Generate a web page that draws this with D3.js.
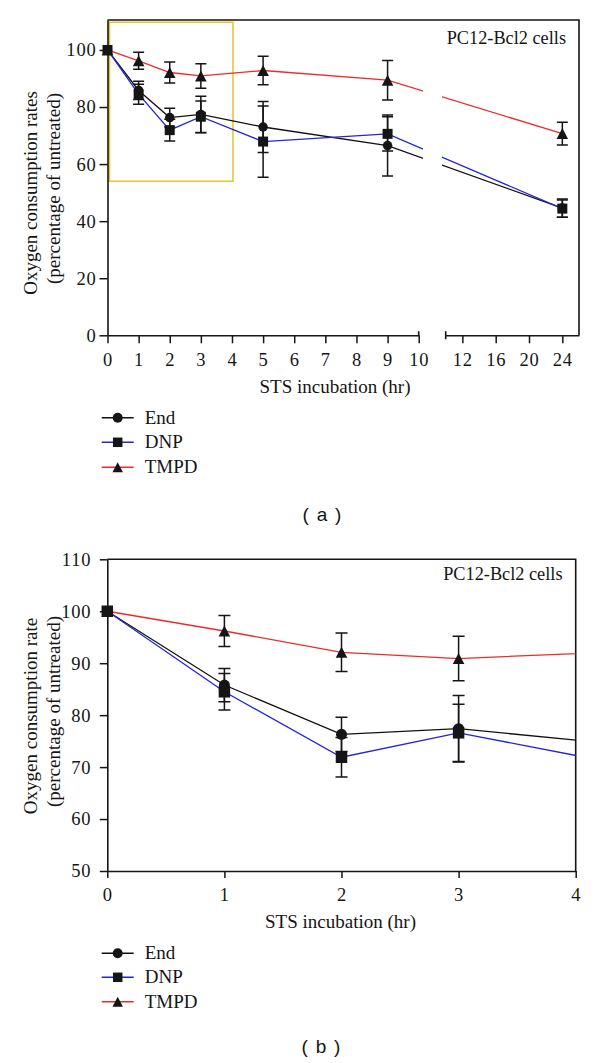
<!DOCTYPE html>
<html><head><meta charset="utf-8">
<script src="https://cdn.jsdelivr.net/npm/d3@7"></script>
<style>body{margin:0;background:#fff} svg{display:block}</style>
</head><body>
<svg id="c" width="600" height="1063"></svg>
<script>
// ---------- data ----------
const hours    = [0, 1, 2, 3, 5, 9, 24];
const endMean  = [100, 85.8, 76.3, 77.4, 73.0, 66.5, 44.6];
const endErr   = [0, 3.2, 3.3, 6.4, 8.9, 10.7, 3.2];
const dnpMean  = [100, 84.5, 71.9, 76.6, 67.9, 70.6, 44.4];
const dnpErr   = [0, 3.5, 3.8, 5.5, 12.5, 6.0, 3.0];
const tmpdMean = [100, 96.2, 92.1, 90.9, 92.8, 89.4, 70.7];
const tmpdErr  = [0, 3.0, 3.7, 4.3, 5.0, 6.9, 4.0];
const seriesNames = ["End", "DNP", "TMPD"];
const xTicksA1 = [0,1,2,3,4,5,6,7,8,9,10];
const xTicksA2 = [12,16,20,24];
const yTicksA  = [0,20,40,60,80,100];
const xTicksB  = [0,1,2,3,4];
const yTicksB  = [50,60,70,80,90,100,110];
const zoomHours = [0, 4];
const zoomValues = [54, 109.7];
const panelLabel = "PC12-Bcl2 cells";
const xTitle = "STS incubation (hr)";
const yTitleA = ["Oxygen consumption rates", "(percentage of untreated)"];
const yTitleB = ["Oxygen consumption rate", "(percentage of untreated)"];

// ---------- styles ----------
const colors = {End: "#111111", DNP: "#2424d8", TMPD: "#ee2a2a"};
const shapes = {End: "circle", DNP: "square", TMPD: "triangle"};
const SERIF = "'Liberation Serif', 'Times New Roman', serif";
const SANS = "'Liberation Sans', Arial, sans-serif";
const INK = "#151515";
const fmt = d3.format("d");

const series = seriesNames.map((name, i) => {
  const m = [endMean, dnpMean, tmpdMean][i];
  const e = [endErr, dnpErr, tmpdErr][i];
  return {name, values: hours.map((t, j) => ({t, v: m[j], e: e[j]}))};
});

const svg = d3.select("#c");
const defs = svg.append("defs");

function markerPath(shape, s) {
  if (shape === "circle") return d3.symbol(d3.symbolCircle, Math.PI * (s/2) * (s/2))();
  if (shape === "square") return `M${-s/2},${-s/2}h${s}v${s}h${-s}Z`;
  const w = s * 1.1, h = s * 1.05;
  return `M0,${-h/2}L${w/2},${h/2}L${-w/2},${h/2}Z`;
}

function styleAxis(g, fs, ls) {
  g.select(".domain").attr("stroke", INK).attr("stroke-width", 1.6);
  g.selectAll(".tick line").attr("stroke", INK).attr("stroke-width", 1.5);
  g.selectAll(".tick text").attr("fill", INK).attr("font-family", SERIF)
    .attr("font-size", fs).attr("letter-spacing", ls);
}

function drawSeries(g, x, y, lineClip, opts) {
  const line = d3.line().x(d => x(d.t)).y(d => y(d.v));
  const lg = g.append("g").attr("clip-path", `url(#${lineClip})`);
  series.forEach(s => {
    lg.append("path").attr("d", line(s.values)).attr("fill", "none")
      .attr("stroke", colors[s.name]).attr("stroke-width", 1.3);
  });
  const eg = g.append("g");
  series.forEach(s => {
    s.values.filter(d => d.e > 0 && d.t <= opts.maxT).forEach(d => {
      const cx = x(d.t), y1 = y(d.v + d.e), y2 = y(d.v - d.e), c = opts.cap / 2;
      eg.append("path")
        .attr("d", `M${cx},${y1}V${y2}M${cx - c},${y1}H${cx + c}M${cx - c},${y2}H${cx + c}`)
        .attr("fill", "none").attr("stroke", INK).attr("stroke-width", 1.5);
    });
  });
  const mg = g.append("g");
  series.forEach(s => {
    s.values.filter(d => d.t <= opts.maxT).forEach(d => {
      mg.append("path").attr("d", markerPath(shapes[s.name], opts.ms[shapes[s.name]]))
        .attr("transform", `translate(${x(d.t)},${y(d.v)})`).attr("fill", INK);
    });
  });
}

function drawLegend(g, x0, ys) {
  seriesNames.forEach((name, i) => {
    const yy = ys[i];
    g.append("line").attr("x1", x0).attr("x2", x0 + 32).attr("y1", yy).attr("y2", yy)
      .attr("stroke", colors[name]).attr("stroke-width", 1.4);
    g.append("path").attr("d", markerPath(shapes[name], shapes[name] === "circle" ? 10 : 9.5))
      .attr("transform", `translate(${x0 + 16},${yy})`).attr("fill", INK);
    g.append("text").attr("x", x0 + 43).attr("y", yy + 6).text(name)
      .attr("font-family", SERIF).attr("font-size", 19).attr("fill", INK);
  });
}

function yTitle(g, lines, cx, cys) {
  lines.forEach((t, i) => {
    g.append("text").attr("transform", `translate(${cx[i]},${cys[i]}) rotate(-90)`)
      .attr("text-anchor", "middle").attr("font-family", SERIF).attr("font-size", 19)
      .attr("fill", INK).text(t);
  });
}

// ================= Panel A =================
const A = svg.append("g");
const xA1 = d3.scaleLinear().domain([0, 10]).range([107.5, 418.7]);
const xA2 = d3.scaleLinear().domain([10, 26]).range([445.7, 579]);
const xA = t => t <= 10 ? xA1(t) : xA2(t);
const yA = d3.scaleLinear().domain([0, 110.5]).range([335.3, 20]);

const clipA = defs.append("clipPath").attr("id", "clipA");
clipA.append("rect").attr("x", 90).attr("y", 0).attr("width", 423 - 90).attr("height", 400);
clipA.append("rect").attr("x", 442).attr("y", 0).attr("width", 150).attr("height", 400);

// frame
A.append("path").attr("d", `M${xA1(0)},${yA.range()[1]}H${xA2(26)}V${yA(0)}`)
  .attr("fill", "none").attr("stroke", INK).attr("stroke-width", 1.6);

// zoom box
A.append("rect").attr("x", xA1(zoomHours[0]) + 2).attr("y", yA(zoomValues[1]))
  .attr("width", xA1(zoomHours[1]) - xA1(zoomHours[0]) - 1)
  .attr("height", yA(zoomValues[0]) - yA(zoomValues[1]))
  .attr("fill", "none").attr("stroke", "#e6c330").attr("stroke-width", 1.5);

const gyA = A.append("g").attr("transform", `translate(${xA1(0)},0)`)
  .call(d3.axisLeft(yA).tickValues(yTicksA).tickFormat(fmt).tickSize(8).tickSizeOuter(0).tickPadding(3));
styleAxis(gyA, 18.5, 0.8);

const gx1 = A.append("g").attr("transform", `translate(0,${yA(0)})`)
  .call(d3.axisBottom(xA1).tickValues(xTicksA1).tickFormat(fmt).tickSize(8).tickSizeOuter(0).tickPadding(10));
styleAxis(gx1, 18.5, 0.8);
const gx2 = A.append("g").attr("transform", `translate(0,${yA(0)})`)
  .call(d3.axisBottom(xA2).tickValues(xTicksA2).tickFormat(fmt).tickSize(8).tickSizeOuter(0).tickPadding(10));
styleAxis(gx2, 18.5, 0.8);
// break marks
A.append("path").attr("d", `M${xA1(10)},${yA(0) - 4}V${yA(0)}M${xA2(10)},${yA(0) - 4}V${yA(0) + 4}`)
  .attr("stroke", INK).attr("stroke-width", 1.6);

drawSeries(A, xA, yA, "clipA", {maxT: 100, cap: 11, ms: {circle: 9.5, square: 10, triangle: 10.5}});

A.append("text").attr("x", 566).attr("y", 43.5).attr("text-anchor", "end")
  .attr("font-family", SERIF).attr("font-size", 18.3).attr("fill", INK).text(panelLabel);
A.append("text").attr("x", 335).attr("y", 392.5).attr("text-anchor", "middle")
  .attr("font-family", SERIF).attr("font-size", 19).attr("fill", INK).text(xTitle);
yTitle(A, yTitleA, [37, 60], [193, 188.5]);
drawLegend(A, 101.7, [417.7, 442.3, 467.3]);
A.append("text").attr("x", 322).attr("y", 520.5).attr("text-anchor", "middle")
  .attr("font-family", SANS).attr("font-size", 19).attr("word-spacing", 2.5).attr("fill", INK).text("( a )");

// ================= Panel B =================
const B = svg.append("g");
const xB = d3.scaleLinear().domain([0, 4]).range([107.3, 575.7]);
const yB = d3.scaleLinear().domain([50, 110]).range([871, 559.3]);

defs.append("clipPath").attr("id", "clipB").append("rect")
  .attr("x", xB(0)).attr("y", yB(110)).attr("width", xB(4) - xB(0)).attr("height", yB(50) - yB(110));

B.append("path").attr("d", `M${xB(0)},${yB(110)}H${xB(4)}V${yB(50)}`)
  .attr("fill", "none").attr("stroke", INK).attr("stroke-width", 1.6);

const gyB = B.append("g").attr("transform", `translate(${xB(0)},0)`)
  .call(d3.axisLeft(yB).tickValues(yTicksB).tickFormat(fmt).tickSize(7.5).tickSizeOuter(0).tickPadding(8.5));
styleAxis(gyB, 18.5, 0.8);
const gxB = B.append("g").attr("transform", `translate(0,${yB(50)})`)
  .call(d3.axisBottom(xB).tickValues(xTicksB).tickFormat(fmt).tickSize(7).tickSizeOuter(0).tickPadding(10));
styleAxis(gxB, 18.5, 0.8);

drawSeries(B, xB, yB, "clipB", {maxT: 4, cap: 12, ms: {circle: 11, square: 11.5, triangle: 10.5}});

B.append("text").attr("x", 562.5).attr("y", 580).attr("text-anchor", "end")
  .attr("font-family", SERIF).attr("font-size", 18.3).attr("fill", INK).text(panelLabel);
B.append("text").attr("x", 340.5).attr("y", 928).attr("text-anchor", "middle")
  .attr("font-family", SERIF).attr("font-size", 19).attr("fill", INK).text(xTitle);
yTitle(B, yTitleB, [37, 60], [716, 711.5]);
drawLegend(B, 101.7, [953.3, 977.3, 1001.7]);
B.append("text").attr("x", 321).attr("y", 1052.5).attr("text-anchor", "middle")
  .attr("font-family", SANS).attr("font-size", 19).attr("word-spacing", 2.5).attr("fill", INK).text("( b )");
</script>
</body></html>
